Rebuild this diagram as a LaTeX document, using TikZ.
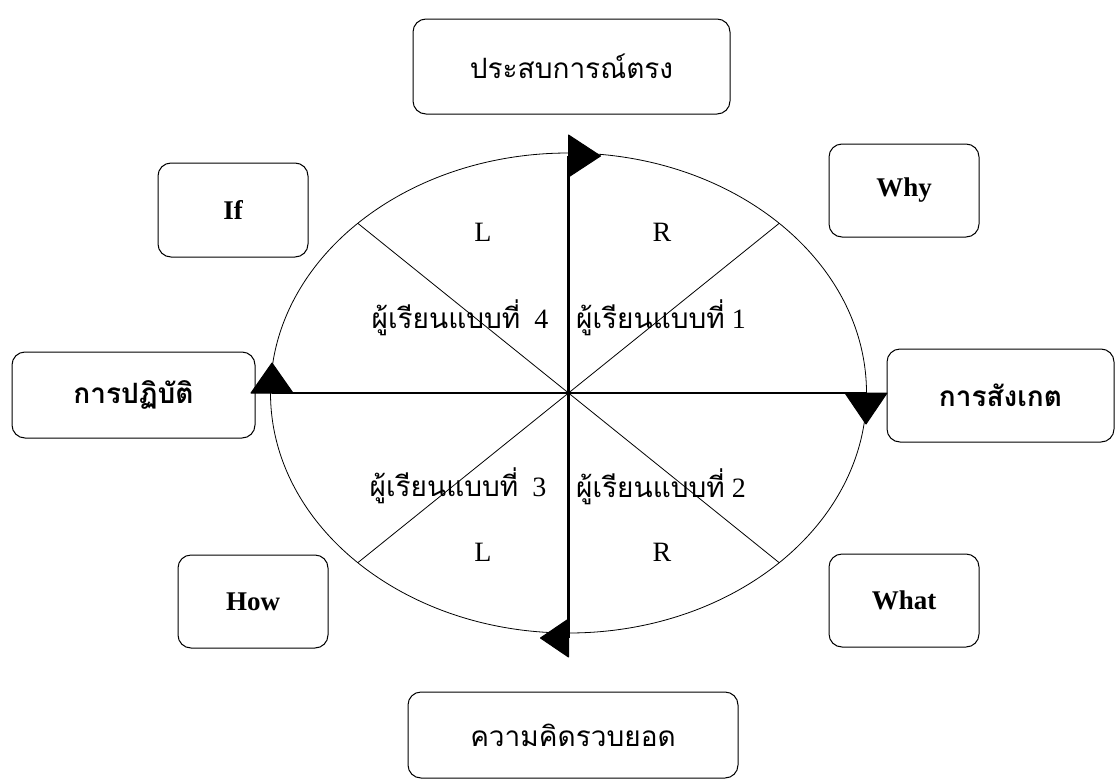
\documentclass[tikz,border=0pt]{standalone}
\usepackage{fontspec}
\setmainfont{Liberation Serif}
\newfontfamily\thaifont[Script=Thai]{Loma}
\tikzset{
  rbox/.style={draw,rounded corners=13pt,line width=1pt,inner sep=0pt},
  thai/.style={font=\thaifont\fontsize{28}{30}\selectfont},
  thaib/.style={font=\thaifont\bfseries\fontsize{28}{30}\selectfont},
  engb/.style={font=\bfseries\fontsize{27}{30}\selectfont},
  side/.style={font=\fontsize{28}{30}\selectfont},
  axis/.style={line width=2.4pt},
  flag/.style={fill=black,draw=black,line width=1pt,line join=round},
}
\begin{document}
\begin{tikzpicture}[x=1pt,y=-1pt]
\useasboundingbox (0,0) rectangle (1116,779);
\node[rbox,thai,minimum width=317pt,minimum height=95pt] (exper) at (571.5,66.5) {ประสบการณ์ตรง};
\node[rbox,engb,minimum width=150pt,minimum height=93pt] (why) at (904,190.5) {Why};
\node[rbox,engb,minimum width=150pt,minimum height=94pt] (if) at (233,210) {If};
\node[rbox,thaib,minimum width=243pt,minimum height=86pt] (practice) at (133.5,395) {การปฏิบัติ};
\node[rbox,thaib,minimum width=227pt,minimum height=93pt] (observe) at (1000.5,395.5) {การสังเกต};
\node[rbox,engb,minimum width=150pt,minimum height=93pt] (how) at (253,601.5) {How};
\node[rbox,engb,minimum width=150pt,minimum height=93pt] (what) at (904,600.5) {What};
\node[rbox,thai,minimum width=330pt,minimum height=86pt] (concept) at (573,735) {ความคิดรวบยอด};

% circle of learners
\coordinate (c) at (568.5,393);
\draw[line width=0.8pt] (c) ellipse [x radius=298pt, y radius=240pt];
\foreach \a in {45,135,225,315}
  \draw[line width=0.8pt] (c) -- ++(\a:298pt and 240pt);
\coordinate (north) at (568.5,156);
\coordinate (south) at (568.5,638);
\coordinate (west) at (272,393);
\coordinate (east) at (866,393);
\draw[axis] (north) -- (south);
\draw[axis] (west) -- (east);
\fill[flag] (north) ++(0,-21) -- ++(32,21) -- ++(-32,21) -- cycle;
\fill[flag] (east) ++(-21,0) -- ++(21,31) -- ++(21,-31) -- cycle;
\fill[flag] (south) ++(0,-19) -- ++(-28,19) -- ++(28,19) -- cycle;
\fill[flag] (west) ++(-21,0) -- ++(21,-30) -- ++(21,30) -- cycle;

\node[side] (ltop) at (483,232) {L};
\node[side] (rtop) at (662,232) {R};
\node[side] (lbot) at (483,552) {L};
\node[side] (rbot) at (662,552) {R};
\node[side] (q4) at (460,318) {{\thaifont ผู้เรียนแบบที่}\ \ 4};
\node[side] (q1) at (661,318) {{\thaifont ผู้เรียนแบบที่} 1};
\node[side] (q3) at (458,486) {{\thaifont ผู้เรียนแบบที่}\ \ 3};
\node[side] (q2) at (661,487) {{\thaifont ผู้เรียนแบบที่} 2};
\end{tikzpicture}
\end{document}
